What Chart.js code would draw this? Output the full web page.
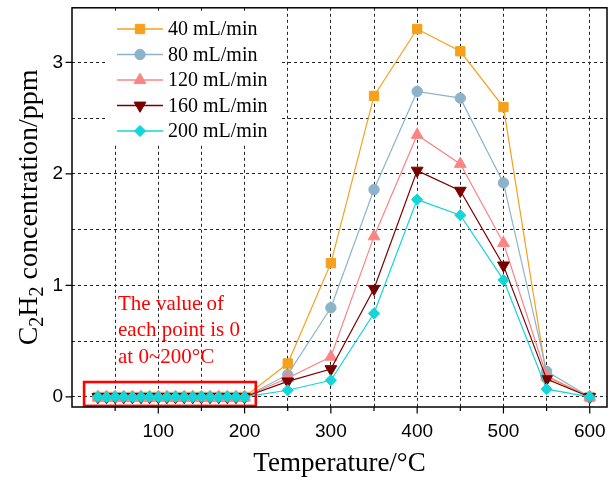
<!DOCTYPE html>
<html>
<head>
<meta charset="utf-8">
<script src="https://cdn.jsdelivr.net/npm/chart.js@4/dist/chart.umd.min.js"></script>
<style>
html,body{margin:0;padding:0;background:#fff;}
#wrap{width:616px;height:483px;position:relative;}
</style>
</head>
<body>
<div id="wrap"><canvas id="c" width="616" height="483"></canvas></div>
<script>
// ---- data ----
const temperatures = [30,40,50,60,70,80,90,100,110,120,130,140,150,160,170,180,190,200,250,300,350,400,450,500,550,600];
const seriesNames = ['40 mL/min','80 mL/min','120 mL/min','160 mL/min','200 mL/min'];
const flow40  = [0,0,0,0,0,0,0,0,0,0,0,0,0,0,0,0,0,0,0.30,1.20,2.70,3.30,3.10,2.60,0.18,0];
const flow80  = [0,0,0,0,0,0,0,0,0,0,0,0,0,0,0,0,0,0,0.20,0.80,1.86,2.74,2.68,1.92,0.23,0];
const flow120 = [0,0,0,0,0,0,0,0,0,0,0,0,0,0,0,0,0,0,0.17,0.36,1.44,2.35,2.09,1.38,0.19,0];
const flow160 = [0,0,0,0,0,0,0,0,0,0,0,0,0,0,0,0,0,0,0.14,0.25,0.97,2.03,1.85,1.18,0.16,0];
const flow200 = [0,0,0,0,0,0,0,0,0,0,0,0,0,0,0,0,0,0,0.06,0.15,0.75,1.77,1.63,1.05,0.07,0];
const xGridValues = [50,100,150,200,250,300,350,400,450,500,550,600];
const yGridValues = [0,0.5,1,1.5,2,2.5,3];
const xMajorTicks = [100,200,300,400,500,600];
const xMinorTicks = [50,150,250,350,450,550];
const yMajorTicks = [0,1,2,3];
const noteLines = ['The value of','each point is 0','at 0~200\u00B0C'];
const xTitle = 'Temperature/\u00B0C';

const allSeries = [flow40, flow80, flow120, flow160, flow200];
const colors = ['#F6A11E','#8DB3CA','#FB8585','#780000','#14D6D8'];
const styles = ['rect','circle','triangle','triangle','rectRot'];
const rotations = [0,0,0,180,0];
const radii = [6.6,5.2,6.8,6.8,5.6];

const datasets = allSeries.map((vals,i)=>({
  label: seriesNames[i],
  data: temperatures.map((t,j)=>({x:t,y:vals[j]})),
  borderColor: colors[i],
  backgroundColor: colors[i],
  pointBackgroundColor: colors[i],
  pointBorderColor: colors[i],
  pointBorderWidth: 1,
  pointStyle: styles[i],
  pointRotation: rotations[i],
  pointRadius: radii[i],
  borderWidth: 1.2,
  showLine: true,
  tension: 0,
  order: 4 - i
}));

const SERIF = "'Liberation Serif','Times New Roman',serif";
const SANS = "'Liberation Sans',Arial,sans-serif";

const decor = {
  id: 'decor',
  beforeDatasetsDraw(chart){
    const ctx = chart.ctx;
    ctx.save();
    ctx.fillStyle = '#fff';
    ctx.fillRect(106, 13, 176, 132);
    ctx.restore();
  },
  afterDatasetsDraw(chart){
    const ctx = chart.ctx;
    const xs = chart.scales.x, ys = chart.scales.y;
    const ca = chart.chartArea;
    ctx.save();
    // legend
    chart.data.datasets.forEach((ds,i)=>{
      const y = 29 + i*25.5;
      ctx.strokeStyle = ds.borderColor;
      ctx.lineWidth = 1.5;
      ctx.beginPath(); ctx.moveTo(117,y); ctx.lineTo(163,y); ctx.stroke();
      ctx.fillStyle = ds.pointBackgroundColor;
      ctx.strokeStyle = ds.pointBorderColor;
      ctx.lineWidth = 1;
      Chart.helpers.drawPoint(ctx, {pointStyle: ds.pointStyle, rotation: ds.pointRotation, radius: ds.pointRadius, borderWidth: 1}, 140, y);
      ctx.fillStyle = '#000';
      ctx.font = '20px ' + SERIF;
      ctx.textBaseline = 'middle';
      ctx.textAlign = 'left';
      ctx.fillText(ds.label, 168, y + 1);
    });
    // red box
    const bx1 = xs.getPixelForValue(14), bx2 = xs.getPixelForValue(213);
    const by1 = ys.getPixelForValue(0.134), by2 = ys.getPixelForValue(-0.08);
    ctx.strokeStyle = '#FF0000';
    ctx.lineWidth = 2.6;
    ctx.strokeRect(bx1, by1, bx2-bx1, by2-by1);
    // note text
    ctx.fillStyle = '#FF0000';
    ctx.font = '21px ' + SERIF;
    ctx.textAlign = 'left';
    ctx.textBaseline = 'middle';
    noteLines.forEach((t,k)=>{ ctx.fillText(t, 118, 304 + k*26.5); });
    // frame
    ctx.strokeStyle = '#000';
    ctx.lineWidth = 1.5;
    ctx.strokeRect(ca.left, ca.top, ca.right-ca.left, ca.bottom-ca.top);
    // tick marks
    ctx.lineWidth = 1.2;
    ctx.beginPath();
    xMajorTicks.forEach(v=>{ const p = xs.getPixelForValue(v); ctx.moveTo(p, ca.bottom); ctx.lineTo(p, ca.bottom+6.5); });
    xMinorTicks.forEach(v=>{ const p = xs.getPixelForValue(v); ctx.moveTo(p, ca.bottom); ctx.lineTo(p, ca.bottom+4); });
    yMajorTicks.forEach(v=>{ const p = ys.getPixelForValue(v); ctx.moveTo(ca.left-6.5, p); ctx.lineTo(ca.left, p); });
    ctx.stroke();
    // axis titles
    ctx.fillStyle = '#000';
    ctx.font = '27px ' + SERIF;
    ctx.textAlign = 'center';
    ctx.textBaseline = 'alphabetic';
    ctx.fillText(xTitle, (ca.left+ca.right)/2, 471);
    // y title with subscripts
    const parts = [['C',false],['2',true],['H',false],['2',true],[' concentration/ppm',false]];
    const mainF = '28px ' + SERIF, subF = '20px ' + SERIF;
    let total = 0;
    parts.forEach(([t,s])=>{ ctx.font = s?subF:mainF; total += ctx.measureText(t).width; });
    ctx.translate(37, (ca.top+ca.bottom)/2);
    ctx.rotate(-Math.PI/2);
    let x = -total/2;
    ctx.textAlign = 'left';
    parts.forEach(([t,s])=>{
      ctx.font = s?subF:mainF;
      ctx.fillText(t, x, s ? 6 : 0);
      x += ctx.measureText(t).width;
    });
    ctx.restore();
  }
};

new Chart(document.getElementById('c'), {
  type: 'line',
  data: { datasets },
  options: {
    responsive: false,
    animation: false,
    devicePixelRatio: 1,
    layout: { padding: { top: 7, right: 9, left: 0, bottom: 0 } },
    plugins: { legend: { display: false }, tooltip: { enabled: false } },
    scales: {
      x: {
        type: 'linear', min: 0, max: 620,
        afterBuildTicks(s){ s.ticks = xGridValues.map(v=>({value:v})); },
        ticks: {
          autoSkip: false, maxRotation: 0,
          color: '#000', font: { family: SANS, size: 19 }, padding: 13,
          callback: (v) => xMajorTicks.includes(v) ? String(v) : ''
        },
        grid: { color: '#222', lineWidth: 1, drawTicks: false },
        border: { display: false, dash: [3,3] },
        afterFit(s){ s.height = 76; s.paddingLeft = 0; s.paddingRight = 0; }
      },
      y: {
        type: 'linear', min: -0.09, max: 3.49,
        afterBuildTicks(s){ s.ticks = yGridValues.map(v=>({value:v})); },
        ticks: {
          autoSkip: false,
          color: '#000', font: { family: SANS, size: 19 }, padding: 9,
          callback: (v) => yMajorTicks.includes(v) ? String(v) : ''
        },
        grid: { color: '#222', lineWidth: 1, drawTicks: false },
        border: { display: false, dash: [3,3] },
        afterFit(s){ s.width = 72; s.paddingTop = 0; s.paddingBottom = 0; }
      }
    }
  },
  plugins: [decor]
});
</script>
</body>
</html>
